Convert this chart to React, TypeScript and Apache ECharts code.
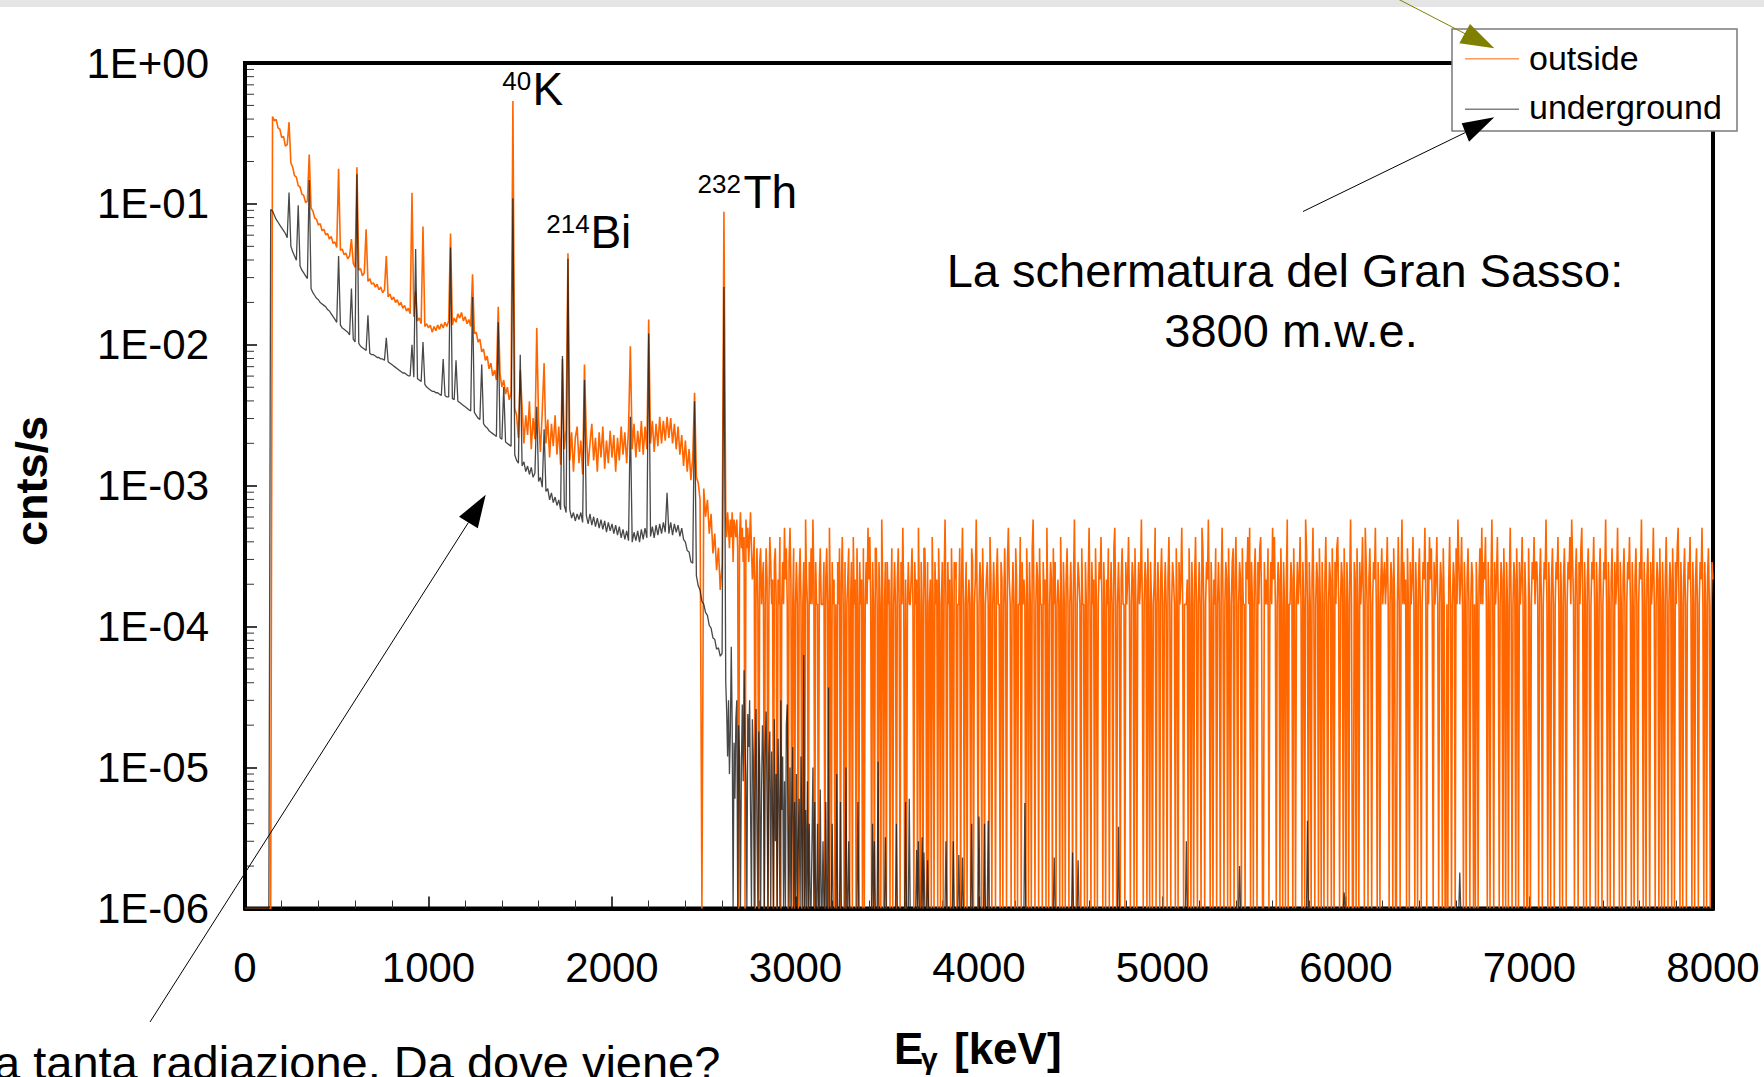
import React, { useEffect, useRef } from "react";
import * as echarts from "echarts";

// ---------------- data ----------------
const LOW_BIN_KEV = 10; // channel width, 0 .. 2610 keV
const HIGH_BIN_KEV = 5; // channel width, 2620 .. 8000 keV
const HIGH_START_KEV = 2620;
const X_MAX_KEV = 8000;
const X_TICK_STEP = 1000;
const Y_MIN = 1e-6;
const Y_MAX = 1;
const FLOOR_RATE = 1e-6; // empty channel drawn on the axis floor
const Z = null; // empty channel (0 counts)

const seriesNames = ["outside", "underground"];
const minorMultipliers = [2, 3, 4, 5, 6, 7, 8, 9];

// log10(cnts/s) per 10 keV channel, 0 .. 2610 keV (outside)
const outsideLowLog: (number | null)[] = [
  Z, Z, Z, Z, Z, Z, Z, Z, Z, Z,
  Z, Z, Z, Z, Z, -0.38, -0.41, -0.40, -0.46, -0.47,
  -0.53, -0.52, -0.59, -0.58, -0.42, -0.71, -0.74, -0.80, -0.81, -0.87,
  -0.88, -0.93, -0.94, -0.99, -0.98, -0.65, -1.03, -1.05, -1.10, -1.11,
  -1.15, -1.14, -1.19, -1.18, -1.22, -1.21, -1.25, -1.23, -1.28, -1.27,
  -1.31, -0.75, -1.33, -1.32, -1.36, -1.35, -1.39, -1.37, -1.25, -1.42,
  -1.45, -0.74, -1.47, -1.46, -1.51, -1.49, -1.18, -1.55, -1.53, -1.57,
  -1.56, -1.59, -1.57, -1.61, -1.59, -1.63, -1.61, -1.37, -1.66, -1.64,
  -1.68, -1.66, -1.70, -1.68, -1.72, -1.70, -1.74, -1.72, -1.76, -1.74,
  -1.78, -0.92, -1.80, -1.62, -1.83, -1.81, -1.85, -1.16, -1.87, -1.85,
  -1.88, -1.86, -1.91, -1.87, -1.90, -1.86, -1.89, -1.85, -1.88, -1.84,
  -1.87, -1.83, -1.21, -1.86, -1.81, -1.84, -1.78, -1.81, -1.77, -1.83,
  -1.80, -1.85, -1.82, -1.87, -1.50, -1.92, -1.91, -1.98, -1.96, -2.05,
  -2.03, -2.11, -2.08, -2.17, -2.13, -2.22, -2.18, -2.25, -1.73, -2.21,
  -2.30, -2.25, -2.35, -2.30, -2.39, -2.34, -0.27, -2.45, -2.50, -2.66,
  -2.18, -2.44, -2.70, -2.50, -2.64, -2.40, -2.74, -2.52, -2.67, -1.88,
  -2.54, -2.76, -2.47, -2.13, -2.70, -2.53, -2.80, -2.56, -2.72, -2.50,
  -2.78, -2.58, -2.85, -2.10, -2.74, -2.60, -1.35, -2.82, -2.62, -2.90,
  -2.66, -2.58, -2.84, -2.68, -2.92, -2.14, -2.64, -2.86, -2.70, -2.56,
  -2.82, -2.66, -2.90, -2.62, -2.80, -2.58, -2.88, -2.68, -2.84, -2.61,
  -2.80, -2.64, -2.90, -2.66, -2.82, -2.58, -2.78, -2.62, -2.84, -2.60,
  -2.01, -2.74, -2.56, -2.80, -2.61, -2.76, -2.54, -2.78, -2.58, -2.74,
  -1.82, -2.70, -2.54, -2.76, -2.56, -2.72, -2.51, -2.70, -2.54, -2.68,
  -2.51, -2.66, -2.52, -2.70, -2.56, -2.74, -2.58, -2.78, -2.64, -2.86,
  -2.68, -2.90, -2.74, -2.96, -2.80, -2.34, -2.94, -2.98, -3.10, Z,
  -3.02, -3.22, -3.10, -3.34, -3.20, -3.48, -3.34, -3.60, -3.44, -3.74,
  -3.56, -1.055,
];

// log10(cnts/s) per 10 keV channel, 0 .. 2610 keV (underground)
const undergroundLowLog: (number | null)[] = [
  Z, Z, Z, Z, Z, Z, Z, Z, Z, Z,
  Z, Z, Z, Z, -1.04, -1.05, -1.08, -1.11, -1.13, -1.15,
  -1.17, -1.19, -1.21, -1.24, -0.92, -1.30, -1.34, -1.37, -1.40, -1.01,
  -1.44, -1.47, -1.49, -1.51, -1.53, -0.83, -1.60, -1.63, -1.65, -1.67,
  -1.68, -1.70, -1.71, -1.72, -1.73, -1.75, -1.76, -1.78, -1.80, -1.82,
  -1.84, -1.37, -1.86, -1.88, -1.89, -1.90, -1.91, -1.93, -1.60, -1.96,
  -1.98, -0.79, -1.99, -2.01, -2.02, -2.03, -2.04, -1.79, -2.06, -2.07,
  -2.07, -2.08, -2.09, -2.09, -2.10, -2.10, -2.11, -1.95, -2.12, -2.13,
  -2.14, -2.15, -2.16, -2.17, -2.18, -2.19, -2.20, -2.20, -2.21, -2.22,
  -2.22, -2.00, -2.23, -1.32, -2.24, -2.25, -2.26, -1.98, -2.28, -2.30,
  -2.31, -2.32, -2.33, -2.33, -2.34, -2.34, -2.35, -2.36, -2.10, -2.36,
  -2.37, -2.37, -1.31, -2.38, -2.39, -2.11, -2.40, -2.41, -2.42, -2.43,
  -2.44, -2.45, -2.46, -2.47, -1.66, -2.48, -2.50, -2.52, -2.53, -2.14,
  -2.56, -2.58, -2.59, -2.61, -2.62, -2.63, -2.64, -2.65, -1.84, -2.66,
  -2.67, -2.30, -2.69, -2.70, -2.71, -2.72, -0.96, -2.78, -2.82, -2.84,
  -2.07, -2.86, -2.83, -2.90, -2.86, -2.92, -2.87, -2.94, -2.91, -2.44,
  -2.97, -2.94, -3.01, -2.60, -3.04, -3.02, -3.10, -3.05, -3.12, -3.08,
  -3.14, -3.10, -3.17, -2.08, -3.14, -3.19, -1.39, -3.17, -3.23, -3.19,
  -3.25, -3.20, -3.24, -3.19, -3.26, -2.25, -3.21, -3.27, -3.20, -3.28,
  -3.22, -3.29, -3.23, -3.30, -3.24, -3.31, -3.25, -3.33, -3.26, -3.32,
  -3.27, -3.34, -3.28, -3.35, -3.29, -3.37, -3.31, -3.38, -3.32, -3.39,
  -2.51, -3.40, -3.33, -3.39, -3.32, -3.40, -3.31, -3.38, -3.30, -3.37,
  -1.92, -3.36, -3.29, -3.37, -3.28, -3.35, -3.27, -3.34, -3.26, -3.33,
  -3.05, -3.34, -3.26, -3.35, -3.27, -3.33, -3.28, -3.36, -3.30, -3.38,
  -3.40, -3.46, -3.47, -3.54, -3.55, -2.40, -3.64, -3.71, -3.74, -3.82,
  -3.84, -3.90, -3.92, -3.99, -4.01, -4.08, -4.09, -4.16, -4.15, -4.21,
  -4.19, -1.59,
];

// outside, 2620 .. 8000 keV, 5 keV channels, in half-count steps (0 = empty)
const OUTSIDE_HALF_COUNT_RATE = 0.72e-4;
const outsideHighLevels = [
  "8697586948", "7685069574", "6085746953", "4603520452", "3402530264",
  "2304520326", "0242735204", "7302502420", "3520240832", "0425283042",
  "2035222403", "5207204230", "2042503620", "4023502406", "2305204230",
  "5024273620", "4205520420", "8302404230", "2502420352", "0427203024",
  "2235204230", "7204205520", "4023062042", "3052024038", "2042305204",
  "3402250372", "0240232054", "0238202430", "5202342063", "0242035220",
  "4302520473", "2024205302", "2604232052", "0420582024", "3052204230",
  "7202430524", "0232062042", "0352024203", "8202432052", "2042037204",
  "2305202436", "2042032502", "4205720242", "0352204236", "2024305202",
  "4238202430", "5204202370", "2420352024", "2036202432", "0520423720",
  "2223052042", "0362024207", "5202438204", "2032502420", "3720243052",
  "0245036202", "4305220436", "2704203520", "4256200423", "2502427362",
  "0243052042", "0380224305", "2024236204", "2085204203", "7202430520",
  "4203620243", "0520425620", "2430520420", "3820043052", "0423620742",
  "0352024372", "0420352342", "3620243052", "0026203824", "2305204236",
  "2042035202", "4372042635", "2042362024", "3052002036", "2024305284",
  "2362042035", "2024302042", "0352724362", "0420382042", "3620243052",
  "0420372024", "3052042362", "0420052024", "3624420352", "0243820420",
  "3520243620", "4203520243", "6284203520", "4257204203", "5202436204",
  "2035202438", "2042035204", "2372042035", "2024362042", "0352024382",
  "0420352042", "3720243052", "0420362024", "3052042572", "0420352024",
  "3620420352", "0243720420", "3520243",
].join("");

// underground, 2620 .. 3300 keV, 5 keV channels, in units of 1e-6 cnts/s
const UNDERGROUND_UNIT = 1e-6;
const undergroundHighRate = [
  40, 25, 12, 30, 9, 18, 72, 20, 0, 15,
  6, 22, 30, 0, 20, 12, 0, 10, 28, 8,
  49, 15, 8, 0, 24, 14, 30, 5, 0, 22,
  12, 0, 9, 26, 4, 0, 18, 10, 0, 7,
  20, 11, 0, 14, 25, 6, 0, 12, 18, 0,
  13, 5, 0, 22, 3, 9, 0, 16, 6, 0,
  30, 5, 12, 0, 8, 0, 20, 28, 4, 0,
  10, 0, 6, 14, 0, 5.7, 0, 9, 0, 3,
  6, 0, 12, 3, 0, 63, 0, 5, 0, 8,
  0, 4, 0, 0, 3, 10, 0, 5.7, 0, 0,
  4, 0, 0, 7, 0, 0, 3, 0, 0, 5.7,
  0, 0, 37, 0, 0, 0, 4, 0, 0, 0,
  0, 9, 0, 0, 0, 5.7, 0, 0, 0, 0,
  0, 10, 0, 0, 3, 0, 0,
];
// isolated underground channels above 3300 keV: [keV, rate in 1e-6 cnts/s]
const undergroundSparse: [number, number][] = [
  [3340, 5.7], [3420, 4], [3430, 3], [3450, 11], [3490, 3.2], [3550, 4],
  [3600, 5.7], [3620, 6], [3660, 2.6], [3670, 3], [3690, 3.2], [3700, 2.5],
  [3720, 2.2], [3820, 3], [3860, 3], [3890, 2.4], [3910, 2.3], [3960, 4],
  [4000, 4.5], [4030, 4], [4050, 4.2], [4250, 5.6], [4410, 2.3], [4510, 2.5],
  [4540, 2.2], [4760, 3.8], [5130, 3.0], [5420, 2.0], [5790, 4.2], [5990, 1.3],
  [6620, 1.8],
];

// ---------------- build ----------------
const N_HIGH = (X_MAX_KEV - HIGH_START_KEV) / HIGH_BIN_KEV + 1;
const fromLog = (l: number | null) => (l === null ? FLOOR_RATE : Math.pow(10, l));

function lowPart(logs: (number | null)[]) {
  return logs.map((l, i) => [i * LOW_BIN_KEV, fromLog(l)]);
}

function highPart(vals: number[]) {
  const out: number[][] = [];
  for (let i = 0; i < N_HIGH; i++) {
    const v = i < vals.length ? vals[i] : FLOOR_RATE;
    out.push([HIGH_START_KEV + i * HIGH_BIN_KEV, v]);
  }
  return out;
}

function buildOutside() {
  const hi = outsideHighLevels.split("").map((c) => {
    const n = Number(c);
    return n === 0 ? FLOOR_RATE : n * OUTSIDE_HALF_COUNT_RATE;
  });
  return [...lowPart(outsideLowLog), ...highPart(hi)];
}

function buildUnderground() {
  const hi = undergroundHighRate.map((r) => (r === 0 ? FLOOR_RATE : r * UNDERGROUND_UNIT));
  while (hi.length < N_HIGH) hi.push(FLOOR_RATE);
  for (const [e, r] of undergroundSparse) {
    hi[Math.round((e - HIGH_START_KEV) / HIGH_BIN_KEV)] = r * UNDERGROUND_UNIT;
  }
  return [...lowPart(undergroundLowLog), ...highPart(hi)];
}

// ---------------- styling helpers ----------------
const FONT = "'Liberation Sans', Arial, Helvetica, sans-serif";
const CENTRAL = 0.3465; // central-baseline offset (fraction of font size)

function txt(x: number, baseline: number, text: string, size: number, opts: any = {}) {
  return {
    type: "text",
    x,
    y: baseline - CENTRAL * size,
    z: 120,
    silent: true,
    style: {
      text,
      x: 0,
      y: 0,
      fill: "#000",
      font: `${opts.bold ? "bold " : ""}${size}px ${FONT}`,
      textAlign: opts.align || "left",
      textVerticalAlign: "middle",
    },
  };
}

function fmtExp(v: number) {
  const e = Math.round(Math.log10(v));
  return "1E" + (e < 0 ? "-" : "+") + String(Math.abs(e)).padStart(2, "0");
}

export default function App() {
  const ref = useRef<HTMLDivElement>(null);

  useEffect(() => {
    document.body.style.margin = "0";
    if (!ref.current) return;
    const chart = echarts.init(ref.current, undefined, { renderer: "svg" });

    const option: any = {
      animation: false,
      backgroundColor: "#ffffff",
      grid: {
        left: 245,
        top: 63,
        width: 1468,
        height: 845.5,
        show: true,
        borderColor: "#000",
        borderWidth: 4,
        backgroundColor: "transparent",
        containLabel: false,
      },
      xAxis: {
        type: "value",
        min: 0,
        max: X_MAX_KEV,
        interval: X_TICK_STEP,
        axisLine: { show: true, lineStyle: { color: "#000", width: 4 } },
        axisTick: { show: true, inside: true, length: 12, lineStyle: { color: "#000", width: 1.5 } },
        minorTick: { show: true, splitNumber: 5, length: 8, lineStyle: { color: "#333", width: 1 } },
        splitLine: { show: false },
        minorSplitLine: { show: false },
        axisLabel: {
          fontSize: 42,
          color: "#000",
          fontFamily: FONT,
          margin: 38,
          formatter: (v: number) => String(v),
        },
      },
      yAxis: {
        type: "log",
        logBase: 10,
        min: Y_MIN,
        max: Y_MAX,
        splitNumber: 6,
        axisLine: { show: true, lineStyle: { color: "#000", width: 4 } },
        axisTick: { show: true, inside: true, length: 12, lineStyle: { color: "#000", width: 1.5 } },
        splitLine: { show: false },
        axisLabel: { fontSize: 42, color: "#000", fontFamily: FONT, margin: 36, formatter: fmtExp },
      },
      series: [
        {
          name: seriesNames[0],
          type: "line",
          data: buildOutside(),
          symbol: "none",
          showSymbol: false,
          lineStyle: { color: "#ff6600", width: 1.6 },
          itemStyle: { color: "#ff6600" },
          z: 2,
        },
        {
          name: seriesNames[1],
          type: "line",
          data: buildUnderground(),
          symbol: "none",
          showSymbol: false,
          lineStyle: { color: "#1a1a1a", width: 1.3, opacity: 0.8 },
          itemStyle: { color: "#1a1a1a" },
          z: 3,
        },
      ],
    };
    chart.setOption(option);

    // minor log ticks on the y axis, positioned through the axis scale
    const x0 = chart.convertToPixel({ xAxisIndex: 0 }, 0) as number;
    const minor: any[] = [];
    for (let d = -6; d < 0; d++) {
      for (const m of minorMultipliers) {
        const py = chart.convertToPixel({ yAxisIndex: 0 }, m * Math.pow(10, d)) as number;
        minor.push({
          type: "line",
          z: 60,
          silent: true,
          shape: { x1: x0 + 2, y1: py, x2: x0 + 9, y2: py },
          style: { stroke: "#333", lineWidth: 1 },
        });
      }
    }

    const olive = "#808000";
    const els: any[] = [
      { type: "rect", z: 1, silent: true, shape: { x: 0, y: 0, width: 1764, height: 7 }, style: { fill: "#e5e5e5" } },
      ...minor,
      // legend box
      { type: "rect", z: 100, silent: true, shape: { x: 1452, y: 29, width: 285, height: 102 }, style: { fill: "#fff", stroke: "#7a7a7a", lineWidth: 1.5 } },
      { type: "line", z: 101, silent: true, shape: { x1: 1465, y1: 58.7, x2: 1519, y2: 58.7 }, style: { stroke: "#ff9a5c", lineWidth: 1.5 } },
      { type: "line", z: 101, silent: true, shape: { x1: 1465, y1: 109.3, x2: 1519, y2: 109.3 }, style: { stroke: "#808080", lineWidth: 1.5 } },
      txt(1529, 69.3, seriesNames[0], 34),
      txt(1529, 118.3, seriesNames[1], 34),
      // arrows
      { type: "line", z: 130, silent: true, shape: { x1: 1398, y1: -1, x2: 1465, y2: 33.7 }, style: { stroke: olive, lineWidth: 1 } },
      { type: "polygon", z: 130, silent: true, shape: { points: [[1459.3, 43.3], [1470, 24], [1494.3, 48.3]] }, style: { fill: olive } },
      { type: "line", z: 130, silent: true, shape: { x1: 1303, y1: 211.5, x2: 1465.4, y2: 132.5 }, style: { stroke: "#000", lineWidth: 1 } },
      { type: "polygon", z: 130, silent: true, shape: { points: [[1461.7, 123.3], [1469, 141.7], [1494.3, 117.3]] }, style: { fill: "#000" } },
      { type: "line", z: 130, silent: true, shape: { x1: 150, y1: 1022, x2: 468.4, y2: 522.5 }, style: { stroke: "#000", lineWidth: 1 } },
      { type: "polygon", z: 130, silent: true, shape: { points: [[459, 516.8], [477.8, 528.2], [485.7, 494.8]] }, style: { fill: "#000" } },
      // peak labels
      txt(502.3, 90.3, "40", 26),
      txt(532.5, 105, "K", 46),
      txt(546.3, 233, "214", 26),
      txt(590.4, 248, "Bi", 46),
      txt(697.5, 193.3, "232", 26),
      txt(743.4, 208, "Th", 46),
      // notes
      txt(1285, 287, "La schermatura del Gran Sasso:", 47, { align: "center" }),
      txt(1291, 346.5, "3800 m.w.e.", 47, { align: "center" }),
      txt(-6, 1078.6, "a tanta radiazione. Da dove viene?", 47),
      // axis titles
      txt(894, 1063.3, "E", 44, { bold: true }),
      txt(921, 1069, "γ", 30, { bold: true }),
      txt(954, 1063.3, "[keV]", 44, { bold: true }),
      {
        type: "text",
        x: 31,
        y: 481,
        rotation: Math.PI / 2,
        z: 120,
        silent: true,
        style: {
          text: "cnts/s",
          x: 0,
          y: 0,
          fill: "#000",
          font: `bold 45px ${FONT}`,
          textAlign: "center",
          textVerticalAlign: "middle",
        },
      },
    ];
    chart.setOption({ graphic: { elements: els } });

    return () => chart.dispose();
  }, []);

  return <div ref={ref} style={{ width: 1764, height: 1077 }} />;
}
